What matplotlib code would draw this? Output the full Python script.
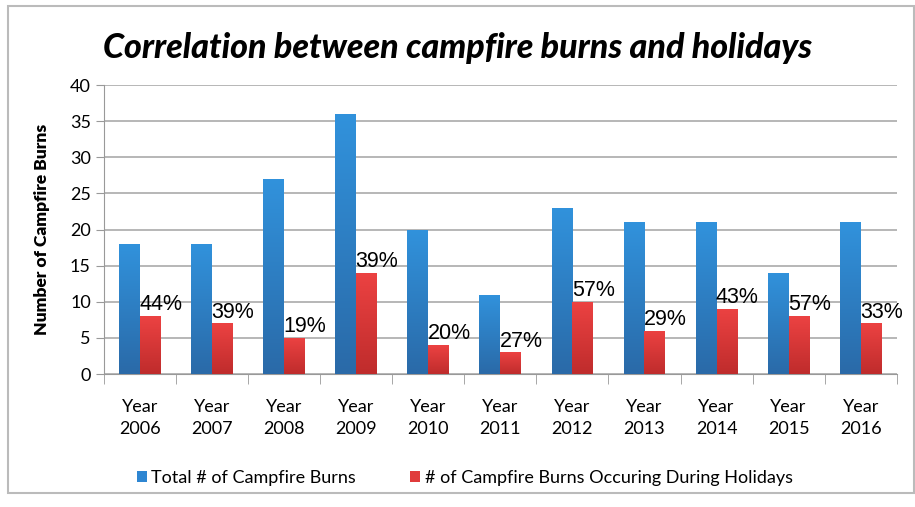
import numpy as np
import matplotlib.pyplot as plt
from matplotlib.patches import Rectangle

years = ['2006', '2007', '2008', '2009', '2010', '2011', '2012', '2013', '2014', '2015', '2016']
total_burns = [18, 18, 27, 36, 20, 11, 23, 21, 21, 14, 21]
holiday_burns = [8, 7, 5, 14, 4, 3, 10, 6, 9, 8, 7]
pct_labels = ['44%', '39%', '19%', '39%', '20%', '27%', '57%', '29%', '43%', '57%', '33%']

fig = plt.figure(figsize=(9.15, 5.07), dpi=100)
ax = fig.add_axes([0.1137, 0.2623, 0.8663, 0.570])

x = np.arange(len(years))
w = 0.29
blue = ax.bar(x - w / 2, total_burns, w, color='#2e86d2', label='Total # of Campfire Burns', zorder=3)
red = ax.bar(x + w / 2, holiday_burns, w, color='#e03b3b', label='# of Campfire Burns Occuring During Holidays', zorder=3)

# vertical gradient inside each bar
def shade(bars, top, bottom):
    grad = np.linspace(0, 1, 100).reshape(-1, 1)
    cmap = plt.matplotlib.colors.LinearSegmentedColormap.from_list('g', [bottom, top])
    for b in bars:
        x0, y0 = b.get_x(), b.get_y()
        im = ax.imshow(grad, extent=[x0, x0 + b.get_width(), y0, y0 + b.get_height()],
                       origin='lower', aspect='auto', cmap=cmap, zorder=3)
        im.set_clip_path(b)

shade(blue, '#3192dc', '#2a6aa8')
shade(red, '#ec4242', '#bf2c2c')

for b, lab in zip(red, pct_labels):
    ax.text(b.get_x() - 0.01, b.get_height() + 0.1, lab, fontsize=15.5,
            family='Liberation Sans', ha='left', va='bottom', zorder=4)

ax.set_xlim(-0.5, len(years) - 0.5)
ax.set_ylim(0, 40)
ax.set_yticks(range(0, 41, 5))
ax.set_xticks(x)
ax.set_xticklabels(['Year\n' + y for y in years], fontsize=13, family='Lato', linespacing=1.45)
ax.set_xticks(np.arange(-0.5, len(years), 1), minor=True)
ax.tick_params(axis='x', which='major', length=0, pad=18)
ax.tick_params(axis='x', which='minor', length=7, color='#999999')
ax.tick_params(axis='y', length=6, color='#999999', labelsize=13)
for t in ax.get_yticklabels():
    t.set_family('Lato')
ax.grid(axis='y', color='#aaaaaa', linewidth=1.2, zorder=0)
for s in ['top', 'right']:
    ax.spines[s].set_visible(False)
ax.spines['left'].set_color('#999999')
ax.spines['bottom'].set_color('#999999')

ax.set_ylabel('Number of Campfire Burns', fontsize=12.5, fontweight='heavy', family='Lato', labelpad=14)
fig.text(0.5, 0.905, 'Correlation between campfire burns and holidays', ha='center', va='center',
         fontsize=24.5, fontweight='black', style='italic', family='Lato')

leg = fig.legend(handles=[blue, red], loc='center', bbox_to_anchor=(0.508, 0.057), ncol=2, frameon=False,
                 handlelength=0.55, handleheight=0.55, handletextpad=0.25, columnspacing=3.0,
                 prop={'family': 'Lato', 'size': 13})

fig.patches.append(Rectangle((0.009, 0.028), 0.99, 0.96, transform=fig.transFigure, fill=False,
                             edgecolor='#bbbbbb', linewidth=1.5))

fig.savefig('out.png', dpi=100)
